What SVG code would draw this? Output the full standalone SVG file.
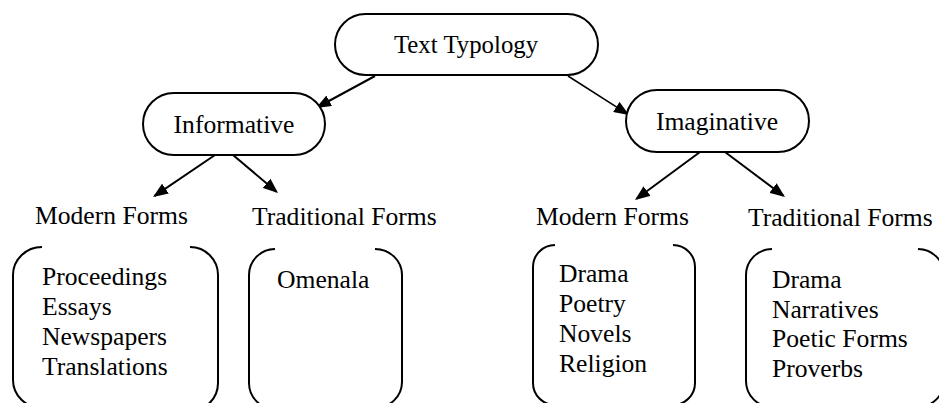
<svg xmlns="http://www.w3.org/2000/svg" width="939" height="403" viewBox="0 0 939 403">
<style>
text{font-family:'Liberation Serif','Tinos','Times New Roman','DejaVu Serif',serif;font-size:25.6px;fill:#000}
.pill{fill:#fff;stroke:#000;stroke-width:2}
.br{fill:none;stroke:#000;stroke-width:2}
.c{stroke:#000;stroke-width:2;fill:none}
.mid{text-anchor:middle}
</style>
<defs>
<marker id="ah" markerUnits="userSpaceOnUse" markerWidth="15" markerHeight="12" viewBox="0 0 15 12" refX="13" refY="6" orient="auto">
<path d="M0,0 L15,6 L0,12 z" fill="#000"/>
</marker>
</defs>
<g id="connectors">
<line class="c" x1="375" y1="76" x2="317.8" y2="107" marker-end="url(#ah)"/>
<line class="c" x1="568" y1="76" x2="627.3" y2="113.9" style="stroke-width:1.5" marker-end="url(#ah)"/>
<line class="c" x1="215" y1="155" x2="154.7" y2="195.9" marker-end="url(#ah)"/>
<line class="c" x1="233" y1="155" x2="276.5" y2="191.7" marker-end="url(#ah)"/>
<line class="c" x1="700" y1="152" x2="636.6" y2="198.8" marker-end="url(#ah)"/>
<line class="c" x1="725" y1="152" x2="783.4" y2="195.8" marker-end="url(#ah)"/>
</g>
<g id="text-typology">
<rect class="pill" x="335" y="14" width="263" height="61" rx="30.5"/>
<text class="mid" x="466" y="53" font-family="Liberation Serif, serif" style="font-size:24.8px">Text Typology</text>
</g>
<g id="informative">
<rect class="pill" x="143" y="93" width="182" height="62" rx="31"/>
<text class="mid" x="234" y="133">Informative</text>
</g>
<g id="imaginative">
<rect class="pill" x="626" y="90" width="183" height="62" rx="31"/>
<text class="mid" x="717" y="130">Imaginative</text>
</g>
<g id="label-modern-informative"><text x="35" y="224">Modern Forms</text></g>
<g id="label-traditional-informative"><text x="252" y="225">Traditional Forms</text></g>
<g id="label-modern-imaginative"><text x="536" y="225">Modern Forms</text></g>
<g id="label-traditional-imaginative"><text x="748" y="226">Traditional Forms</text></g>
<g id="box-informative-modern">
<path class="br" d="M42,247 A29,28 0 0 0 13,275 V380 A29,28 0 0 0 42,408"/>
<path class="br" d="M190,247 A28,28 0 0 1 218,275 V383 A28,28 0 0 1 190,411"/>
<text x="42" y="285">Proceedings</text>
<text x="42" y="315">Essays</text>
<text x="42" y="345">Newspapers</text>
<text x="42" y="375">Translations</text>
</g>
<g id="box-informative-traditional">
<path class="br" d="M275,249 A26,26 0 0 0 249,275 V383 A26,26 0 0 0 275,409"/>
<path class="br" d="M375,249 A27,26 0 0 1 402,275 V382 A27,26 0 0 1 375,408"/>
<text x="277" y="288">Omenala</text>
</g>
<g id="box-imaginative-modern">
<path class="br" d="M555,245 A22,22 0 0 0 533,267 V383 A22,22 0 0 0 555,405"/>
<path class="br" d="M673,245 A22,22 0 0 1 695,267 V383 A22,22 0 0 1 673,405"/>
<text x="559" y="282">Drama</text>
<text x="559" y="312">Poetry</text>
<text x="559" y="342">Novels</text>
<text x="559" y="372">Religion</text>
</g>
<g id="box-imaginative-traditional">
<path class="br" d="M772,249 A26,26 0 0 0 746,275 V381 A26,26 0 0 0 772,407"/>
<path class="br" d="M918,249 A26,26 0 0 1 944,275 V381 A26,26 0 0 1 918,407"/>
<text x="772" y="288">Drama</text>
<text x="772" y="317.5">Narratives</text>
<text x="772" y="347">Poetic Forms</text>
<text x="772" y="376.5">Proverbs</text>
</g>
</svg>
